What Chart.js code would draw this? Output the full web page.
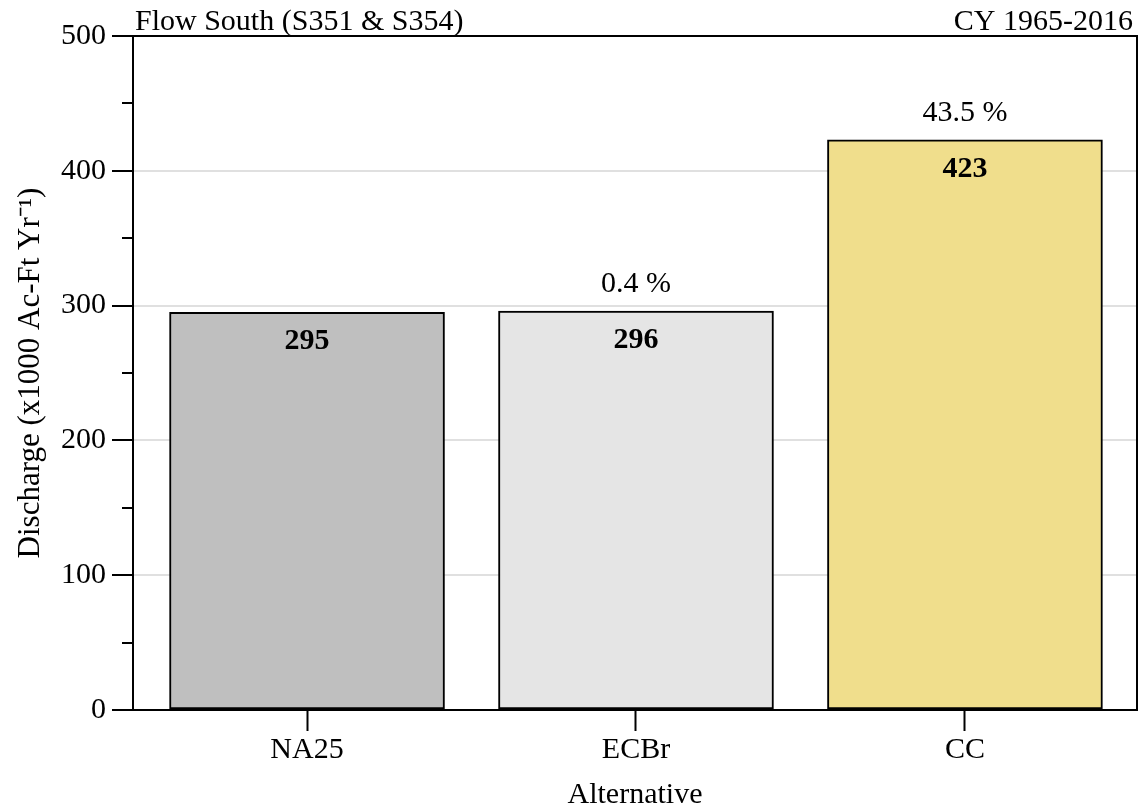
<!DOCTYPE html>
<html>
<head>
<meta charset="utf-8">
<script src="https://cdn.jsdelivr.net/npm/chart.js@4"></script>
<style>
  html, body { margin: 0; padding: 0; background: #fff; }
  #wrap { width: 1144px; height: 807px; }
</style>
</head>
<body>
<div id="wrap"><canvas id="c" width="1144" height="807"></canvas></div>
<script>
// Mean annual discharge by alternative
const categories = ['NA25', 'ECBr', 'CC'];
const discharge = [295, 296, 423];
const changeLabels = ['', '0.4 %', '43.5 %'];
const barColors = ['#bfbfbf', '#e5e5e5', '#f0de8c'];
const yMajorTicks = [0, 100, 200, 300, 400, 500];
const yMinorTicks = [50, 150, 250, 350, 450];

const leftTitle = 'Flow South (S351 & S354)';
const rightTitle = 'CY 1965-2016';

const SERIF = "'Liberation Serif', 'Times New Roman', serif";

// Box frame, minor y ticks, header texts and value labels
const decorations = {
  id: 'decorations',
  afterDraw(chart) {
    const { ctx, chartArea: a, scales } = chart;
    const y = scales.y;
    ctx.save();
    ctx.strokeStyle = '#000';
    ctx.lineWidth = 2;
    ctx.beginPath();
    ctx.moveTo(a.left, a.top);
    ctx.lineTo(a.right, a.top);
    ctx.lineTo(a.right, a.bottom);
    ctx.stroke();

    ctx.beginPath();
    yMinorTicks.forEach(v => {
      const py = Math.round(y.getPixelForValue(v));
      ctx.moveTo(a.left - 11, py);
      ctx.lineTo(a.left, py);
    });
    ctx.stroke();

    ctx.fillStyle = '#000';
    ctx.font = `30px ${SERIF}`;
    ctx.textBaseline = 'alphabetic';
    ctx.textAlign = 'left';
    ctx.fillText(leftTitle, a.left + 2, a.top - 6);
    ctx.textAlign = 'right';
    ctx.fillText(rightTitle, a.right - 4, a.top - 6);

    const meta = chart.getDatasetMeta(0);
    meta.data.forEach((bar, i) => {
      ctx.textAlign = 'center';
      ctx.textBaseline = 'middle';
      ctx.font = `bold 30px ${SERIF}`;
      ctx.fillText(String(discharge[i]), bar.x, bar.y + 29);
      if (changeLabels[i]) {
        ctx.font = `30px ${SERIF}`;
        ctx.fillText(changeLabels[i], bar.x, bar.y - 27);
      }
    });
    ctx.restore();
  }
};

new Chart(document.getElementById('c'), {
  type: 'bar',
  data: {
    datasets: [{
      data: categories.map((c, i) => ({ x: i, y: discharge[i] })),
      backgroundColor: barColors,
      borderColor: '#000',
      borderWidth: 2,
      borderSkipped: false,
      barThickness: 275
    }]
  },
  options: {
    responsive: false,
    animation: false,
    layout: { padding: { left: 0, top: 36, right: 7, bottom: 0 } },
    plugins: { legend: { display: false }, tooltip: { enabled: false }, title: { display: false } },
    scales: {
      x: {
        type: 'linear',
        offset: false,
        min: -0.529,
        max: 2.523,
        afterBuildTicks: s => { s.ticks = categories.map((c, i) => ({ value: i })); },
        afterFit: s => { s.height = 97; },
        ticks: {
          callback: v => categories[v] ?? '',
          color: '#000',
          font: { family: SERIF, size: 30 },
          padding: 1,
          maxRotation: 0
        },
        grid: { offset: false, drawOnChartArea: false, tickLength: 21, tickColor: '#000', tickWidth: 2 },
        border: { display: true, color: '#000', width: 2 },
        title: {
          display: true,
          text: 'Alternative',
          color: '#000',
          font: { family: SERIF, size: 30, lineHeight: 1 },
          padding: { top: 0, bottom: -3 }
        }
      },
      y: {
        min: 0,
        max: 500,
        z: 1,
        afterBuildTicks: s => { s.ticks = yMajorTicks.map(v => ({ value: v })); },
        afterFit: s => { s.width = 133; },
        ticks: {
          color: '#000',
          font: { family: SERIF, size: 30 },
          padding: 6
        },
        grid: {
          tickLength: 21,
          tickWidth: 2,
          tickColor: '#000',
          lineWidth: 2,
          color: ctx => (ctx.tick && ctx.tick.value > 0 && ctx.tick.value < 500) ? 'rgba(0,0,0,0.12)' : 'rgba(0,0,0,0)'
        },
        border: { display: true, color: '#000', width: 2 },
        title: {
          display: true,
          text: 'Discharge (x1000 Ac-Ft Yr\u207B\u00B9)',
          color: '#000',
          font: { family: SERIF, size: 31 },
          padding: { top: 12, bottom: 0 }
        }
      }
    }
  },
  plugins: [decorations]
});
</script>
</body>
</html>
